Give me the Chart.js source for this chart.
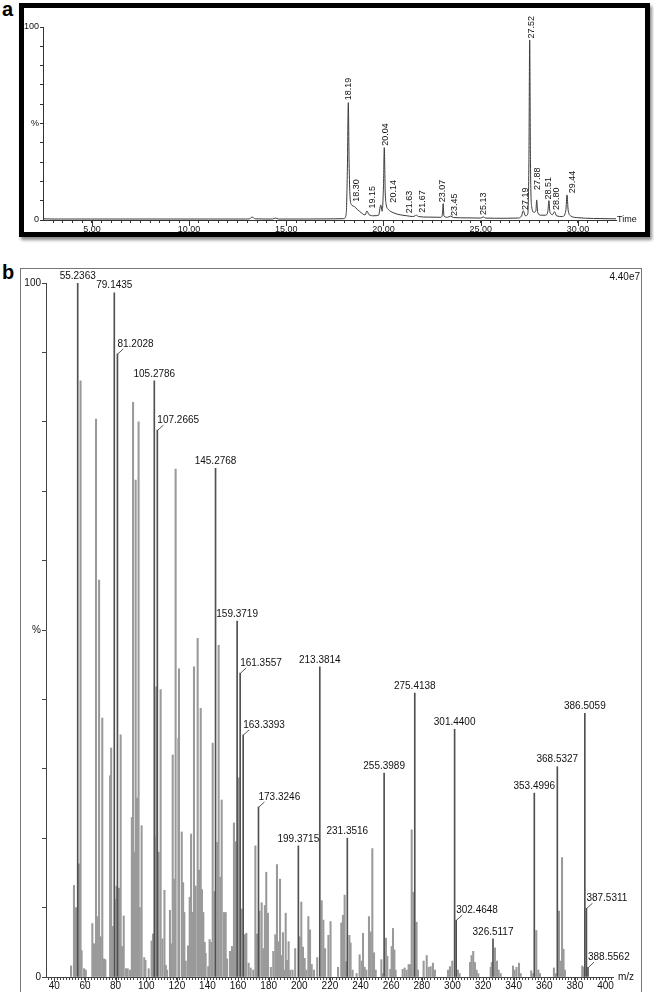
<!DOCTYPE html>
<html><head><meta charset="utf-8">
<script src="https://cdn.jsdelivr.net/npm/chart.js@4.4.1/dist/chart.umd.min.js"></script>
<style>
html,body{margin:0;padding:0;background:#fff;width:654px;height:992px;overflow:hidden;font-family:"Liberation Sans",Arial,sans-serif;}
#boxA{position:absolute;left:19px;top:3px;width:631px;height:234px;border:5px solid #000;box-sizing:border-box;box-shadow:2px 3px 3px rgba(0,0,0,0.45);}
#boxB{position:absolute;left:20px;top:268px;width:622px;height:730px;border:1px solid #777;box-sizing:border-box;}
.plabel{position:absolute;font-weight:bold;font-size:20px;line-height:20px;color:#000;}
#cA{position:absolute;left:0;top:0;width:654px;height:245px;}
#cB{position:absolute;left:0;top:262px;width:654px;height:730px;}
</style></head>
<body>
<div id="boxA"></div><div id="boxB"></div>
<div class="plabel" style="left:2px;top:-1px">a</div>
<div class="plabel" style="left:2px;top:262px">b</div>
<canvas id="cA" width="654" height="245"></canvas>
<canvas id="cB" width="654" height="730"></canvas>
<script>
// ---------- Panel a: total ion chromatogram ----------
const chromTime = [2.5,3.0,5.0,8.0,11.0,12.9,13.1,13.25,13.4,14.3,14.45,14.6,16.0,17.5,17.95,18.08,18.14,18.19,18.23,18.28,18.35,18.5,18.65,18.85,19.05,19.15,19.25,19.5,19.75,19.86,19.93,20.0,20.04,20.09,20.14,20.25,20.5,20.8,21.2,21.5,21.63,21.67,21.8,22.3,22.95,23.03,23.07,23.11,23.3,23.45,23.6,24.3,25.0,25.13,25.25,26.2,26.9,27.1,27.19,27.3,27.42,27.48,27.52,27.56,27.62,27.75,27.84,27.88,27.93,28.1,28.35,28.46,28.51,28.56,28.7,28.8,28.9,29.2,29.38,29.44,29.5,29.65,30.0,30.8,31.96];
const chromPct  = [0.6,0.5,0.5,0.5,0.5,0.5,0.6,1.5,0.6,0.5,1.0,0.5,0.5,0.6,0.7,3,25,60.8,30,12,8,7,5.5,3.8,2.6,4.7,2.8,2.2,2.5,7.8,4.5,18,37.5,14,8,5.5,3.8,2.8,2.2,1.8,2.2,2.6,1.8,1.5,1.4,3,8.5,2,1.4,2.0,1.3,1.1,1.0,1.6,1.0,0.9,1.0,2,4.8,2.2,3,30,93.3,30,7,4,5,10.4,4,2.5,2.5,5,10.0,4,2.8,4.3,2.2,1.8,5,13,5,2,1.2,0.8,0.6];
const peakLabels = ['18.19','18.30','19.15','20.04','20.14','21.63','21.67','23.07','23.45','25.13','27.19','27.52','27.88','28.51','28.80','29.44'];
const peakLabelTime = [18.19,18.60,19.42,20.08,20.49,21.35,22.02,23.06,23.66,25.14,27.28,27.60,27.91,28.48,28.89,29.71];
const peakLabelPct  = [62.0,9.5,6.0,38.5,9.0,3.5,3.8,9.2,2.1,2.6,5.2,94.0,15.5,10.6,5.2,13.8];
const timeTickLabels = [5,10,15,20,25,30];

// ---------- Panel b: mass spectrum ----------
const labeledMz  = [55.2363,79.1435,81.2028,105.2786,107.2665,145.2768,159.3719,161.3557,163.3393,173.3246,199.3715,213.3814,231.3516,255.3989,275.4138,301.4400,302.4648,326.5117,353.4996,368.5327,386.5059,387.5311,388.5562];
const labeledInt = [100,98.6,89.8,85.9,78.8,73.3,51.3,43.8,34.9,24.5,18.9,44.7,20.0,29.4,40.9,35.7,8.2,5.5,26.5,30.3,38.0,9.9,1.4];
const leaderLabelMz = [81.2028,107.2665,161.3557,163.3393,173.3246,302.4648,387.5311,388.5562];
const otherMz  = [50.9,52.8,54.1,56.1,57.1,57.8,59.4,60.5,64.8,65.9,67.2,68.0,69.2,70.3,71.3,72.4,73.3,76.4,77.1,77.9,79.8,80.6,82.2,83.3,84.2,85.3,86.8,87.9,89.4,90.6,91.4,92.3,93.1,94.0,95.0,95.8,97.0,98.7,99.5,101.6,103.5,104.4,105.9,106.6,108.1,109.4,110.6,111.9,112.8,113.6,115.5,116.4,117.3,118.3,119.2,121.0,121.4,123.2,124.1,124.9,125.8,127.3,128.4,129.3,130.3,131.2,132.3,133.6,134.5,135.6,136.4,137.3,138.2,138.8,140.5,141.4,142.5,143.4,144.5,146.5,147.3,148.4,149.3,150.8,151.9,152.8,154.7,156.0,157.3,158.4,160.3,162.3,164.5,165.4,166.9,168.2,169.9,171.3,172.4,174.0,175.4,176.5,177.5,178.4,179.5,181.4,183.0,184.3,185.4,186.3,187.4,188.3,189.3,190.2,191.1,192.0,193.0,194.1,195.6,197.3,200.2,201.3,202.4,203.5,204.6,205.9,207.0,208.1,209.6,211.7,214.6,215.7,216.8,219.0,220.4,225.3,227.4,228.5,229.6,230.5,232.7,233.5,234.8,237.4,239.4,240.7,241.6,242.7,243.8,245.5,246.6,247.7,248.8,249.9,253.6,254.4,256.6,257.5,259.4,260.3,261.2,262.1,262.9,267.5,268.8,270.1,271.4,272.3,273.4,274.5,276.6,277.5,281.2,283.2,284.5,285.8,287.3,288.6,297.1,298.4,299.9,303.6,304.7,311.5,312.5,313.6,314.7,315.8,316.9,325.0,325.7,327.8,329.1,330.2,331.5,339.6,340.6,341.9,343.5,344.6,351.5,352.8,354.8,356.1,357.2,366.3,367.4,369.6,370.5,371.6,372.6,373.5,384.8,385.9];
const otherInt = [1.6,13.2,10,16.3,85.9,3.8,1.2,1.0,7.7,4.8,80.4,8.7,57.2,5.8,37.3,2.6,2.5,29,33,7.3,11.2,13.1,12.8,34.9,4.4,8.8,1.2,1.2,1.0,23,82.8,18,71.6,25.8,80.0,10,21.8,2.8,2.4,1.2,5.2,6.2,20.2,41.8,18,41.4,5.5,12.5,1.7,1.0,9.6,4.8,32,14.1,73.2,34.4,44.4,20.9,13.6,9.3,2.3,4.5,11.5,20.6,9.3,44.7,13.1,48.8,15.4,38.7,12.6,9.3,5.0,3.4,1.5,5.4,5.0,33.7,12.3,19.4,47.8,14.4,25.5,9.3,9.3,2.6,3.7,4.4,22.2,19.5,28.7,9.8,6.1,6.3,2.0,1.3,1.0,18.9,6.2,9.5,10.7,4.1,10.3,15.1,9.2,1.4,3.7,6.1,16.2,5.1,14.1,3.1,6.4,1.0,9.2,2.4,5.1,1.0,1.0,4.1,5.8,10.8,4.3,2.7,1.0,8.7,6.8,1.8,1.0,2.8,11,8.2,4.1,6.0,8,1.4,7.8,8.9,11.8,2.2,6.0,4.9,1.0,0.5,3.2,2.3,6.3,1.4,1.0,8.7,6.5,18.5,3.5,1.0,2.5,0.5,5.6,3.0,1.1,4.4,7.0,3.9,1.0,1.1,1.3,1.0,1.8,1.8,21.2,12.2,7.9,1.0,2.3,3.1,1.4,1.5,2.0,1.0,1.0,1.5,2.3,1.0,0.5,2.1,3.1,3.7,2.1,1.0,0.5,1.4,2.1,4.2,2.3,1.0,0.5,1.6,1.0,1.4,2.0,0.5,0.9,0.5,6.7,1.0,0.5,1.3,0.5,9.5,2.3,17.2,4.0,1.0,1.6,1.4];
const mzTickLabels = [40,60,80,100,120,140,160,180,200,220,240,260,280,300,320,340,360,380,400];
const scaleFactorText = '4.40e7';

const FONT = '"Liberation Sans", Arial, sans-serif';
const AX = '#333';

function range(a,b,s){const r=[];for(let v=a;v<=b+1e-9;v+=s)r.push(Math.round(v*100)/100);return r;}

// -------- Chart A --------
const timeTicks = range(3.0,31.5,0.5);
const pctTicks = range(0,100,10);

const chromPlugin = {
  id:'chromExtras',
  afterDraw(chart){
    const {ctx, scales:{x,y}, chartArea} = chart;
    ctx.save();
    ctx.strokeStyle = AX; ctx.lineWidth = 1;
    timeTickLabels.forEach(t=>{
      const px = Math.round(x.getPixelForValue(t))+0.5;
      ctx.beginPath(); ctx.moveTo(px, chartArea.bottom); ctx.lineTo(px, chartArea.bottom+6); ctx.stroke();
    });
    ctx.fillStyle = '#111'; ctx.font = '9px '+FONT;
    ctx.textAlign='left'; ctx.textBaseline='middle';
    ctx.fillText('Time', chartArea.right+1, chartArea.bottom);
    peakLabels.forEach((lab,i)=>{
      const px = x.getPixelForValue(peakLabelTime[i]);
      const py = y.getPixelForValue(peakLabelPct[i]);
      ctx.save(); ctx.translate(px, py); ctx.rotate(-Math.PI/2);
      ctx.textAlign='left'; ctx.textBaseline='middle';
      ctx.fillText(lab, 0, 0);
      ctx.restore();
    });
    ctx.restore();
  }
};

new Chart(document.getElementById('cA'), {
  type:'line',
  data:{datasets:[{data: chromTime.map((t,i)=>({x:t,y:chromPct[i]})), borderColor:'#3a3a3a', borderWidth:1, pointRadius:0, cubicInterpolationMode:'monotone', fill:false}]},
  options:{
    responsive:false, animation:false, events:[],
    layout:{padding:{left:18,right:38,top:27,bottom:5}},
    plugins:{legend:{display:false}, tooltip:{enabled:false}},
    scales:{
      x:{type:'linear', min:2.485, max:31.96,
        afterBuildTicks:s=>{s.ticks=timeTicks.map(v=>({value:v}));},
        afterFit:s=>{s.height=20;},
        ticks:{autoSkip:false, maxRotation:0, minRotation:0, padding:1, color:'#111', font:{size:9,family:FONT},
          callback:v=> timeTickLabels.includes(v) ? v.toFixed(2) : ''},
        grid:{drawOnChartArea:false, tickLength:3, color:AX, lineWidth:1},
        border:{color:AX, width:1}},
      y:{min:0, max:100,
        afterBuildTicks:s=>{s.ticks=pctTicks.map(v=>({value:v}));},
        afterFit:s=>{s.width=25;},
        ticks:{autoSkip:false, padding:1, color:'#111', font:{size:9,family:FONT},
          callback:v=> v===100?'100':(v===50?'%':(v===0?'0':''))},
        grid:{drawOnChartArea:false, tickLength:3, color:AX, lineWidth:1},
        border:{color:AX, width:1}}
    }
  },
  plugins:[chromPlugin]
});

// -------- Chart B --------
const mzTicks = range(36,404,2);

const specPlugin = {
  id:'specExtras',
  afterDraw(chart){
    const {ctx, scales:{x,y}, chartArea} = chart;
    ctx.save();
    ctx.strokeStyle = '#444'; ctx.lineWidth = 1;
    mzTickLabels.forEach(m=>{
      const px = Math.round(x.getPixelForValue(m))+0.5;
      ctx.beginPath(); ctx.moveTo(px, chartArea.bottom); ctx.lineTo(px, chartArea.bottom+5); ctx.stroke();
    });
    ctx.fillStyle='#111'; ctx.font='10px '+FONT;
    ctx.textAlign='left'; ctx.textBaseline='middle';
    ctx.fillText('m/z', chartArea.right+5, chartArea.bottom);
    ctx.textAlign='right';
    ctx.fillText(scaleFactorText, chart.width-14, chartArea.top-6);
    labeledMz.forEach((m,i)=>{
      const px = x.getPixelForValue(m);
      const py = y.getPixelForValue(labeledInt[i]);
      const lab = m.toFixed(4);
      if (leaderLabelMz.includes(m)) {
        ctx.strokeStyle='#555';
        ctx.beginPath(); ctx.moveTo(px+0.5, py); ctx.lineTo(px+6, py-5); ctx.stroke();
        ctx.textAlign='left'; ctx.textBaseline='middle';
        ctx.fillText(lab, px, py-10);
      } else {
        ctx.textAlign='center'; ctx.textBaseline='middle';
        ctx.fillText(lab, px, py-7);
      }
    });
    ctx.restore();
  }
};

new Chart(document.getElementById('cB'), {
  type:'bar',
  data:{datasets:[
    {data: labeledMz.map((m,i)=>({x:m,y:labeledInt[i]})), backgroundColor:'#505050', barThickness:1, grouped:false, borderWidth:0, order:0},
    {data: otherMz.map((m,i)=>({x:m,y:otherInt[i]})), backgroundColor:'#9a9a9a', barThickness:1.4, grouped:false, borderWidth:0, order:1}
  ]},
  options:{
    responsive:false, animation:false, events:[],
    layout:{padding:{left:18,right:41,top:21,bottom:0}},
    plugins:{legend:{display:false}, tooltip:{enabled:false}},
    scales:{
      x:{type:'linear', offset:false, min:34.53, max:404.9,
        afterBuildTicks:s=>{s.ticks=mzTicks.map(v=>({value:v}));},
        afterFit:s=>{s.height=15;},
        ticks:{autoSkip:false, maxRotation:0, minRotation:0, padding:0, color:'#111', font:{size:10,family:FONT},
          callback:v=> mzTickLabels.includes(v) ? String(v) : ''},
        grid:{offset:false, drawOnChartArea:false, tickLength:3, color:'#444', lineWidth:1},
        border:{color:'#444', width:1}},
      y:{min:0, max:100,
        afterBuildTicks:s=>{s.ticks=pctTicks.map(v=>({value:v}));},
        afterFit:s=>{s.width=28;},
        ticks:{autoSkip:false, padding:1, color:'#111', font:{size:10,family:FONT},
          callback:v=> v===100?'100':(v===50?'%':(v===0?'0':''))},
        grid:{drawOnChartArea:false, tickLength:4, color:'#444', lineWidth:1},
        border:{color:'#444', width:1}}
    }
  },
  plugins:[specPlugin]
});
</script>
</body></html>
